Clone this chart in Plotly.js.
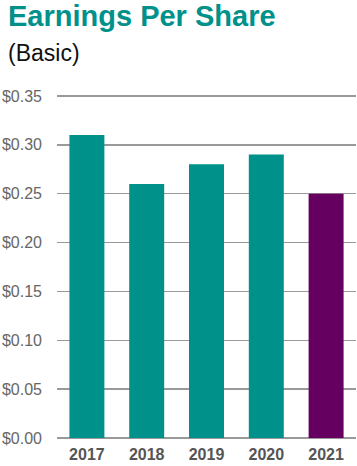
<!DOCTYPE html>
<html><head><meta charset="utf-8">
<script src="https://cdn.plot.ly/plotly-3.0.1.min.js"></script>
<style>html,body{margin:0;padding:0;background:#fff;}#c{width:357px;height:466px;}</style>
</head><body><div id="c"></div>
<script>
const years = ['2017','2018','2019','2020','2021'];
const eps = [0.31, 0.26, 0.28, 0.29, 0.25];
const barColors = ['#00918A','#00918A','#00918A','#00918A','#660060'];
const yTicks = [0,0.05,0.10,0.15,0.20,0.25,0.30,0.35];
const yTickLabels = ['$0.00','$0.05','$0.10','$0.15','$0.20','$0.25','$0.30','$0.35'];

Plotly.newPlot('c', [{
  type:'bar', x: years, y: eps,
  marker:{color: barColors, line:{width:0}},
  width: 0.585, hoverinfo:'none'
}], {
  width:357, height:466,
  margin:{l:56.5, r:0.5, t:92, b:24},
  paper_bgcolor:'#fff', plot_bgcolor:'#fff',
  font:{family:'Liberation Sans, Arial, sans-serif', color:'#555'},
  xaxis:{type:'category', tickfont:{size:16, color:'#555', family:'Liberation Sans, Arial, sans-serif', weight:'bold'},
    showgrid:false, zeroline:false, showline:false, ticks:'', ticklabelstandoff:1},
  yaxis:{range:[-0.004,0.354], tickvals:yTicks, ticktext:yTickLabels,
    tickfont:{size:16, color:'#666'}, showgrid:true, gridcolor:'#999', gridwidth:1.5,
    zeroline:false, showline:false, ticks:'', ticklabelstandoff:14},
  annotations:[
    {text:'<b>Earnings Per Share</b>', xref:'paper', yref:'paper', x:0, xanchor:'left', xshift:-51, y:1, yanchor:'bottom', yshift:58,
     showarrow:false, font:{size:29, color:'#00918A'}},
    {text:'(Basic)', xref:'paper', yref:'paper', x:0, xanchor:'left', xshift:-51, y:1, yanchor:'bottom', yshift:24,
     showarrow:false, font:{size:23, color:'#111'}}
  ],
  showlegend:false
}, {staticPlot:true});
</script></body></html>
